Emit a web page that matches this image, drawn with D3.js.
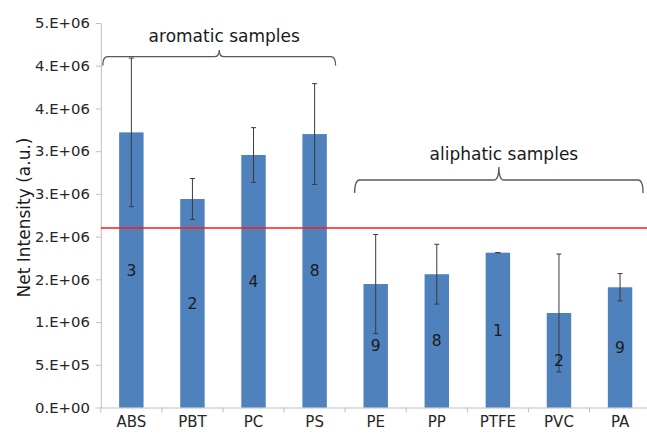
<!DOCTYPE html>
<html>
<head>
<meta charset="utf-8">
<script src="https://cdn.jsdelivr.net/npm/d3@7"></script>
<style>
  body { margin: 0; background: #fff; }
  svg { display: block; font-family: "DejaVu Sans", Verdana, sans-serif; }
</style>
</head>
<body>
<svg id="chart" width="647" height="434"></svg>
<script>
// ---- data ----
const categories = ["ABS", "PBT", "PC", "PS", "PE", "PP", "PTFE", "PVC", "PA"];
const values = [3.22e6, 2.44e6, 2.955e6, 3.20e6, 1.445e6, 1.56e6, 1.812e6, 1.106e6, 1.407e6];
const errors = [0.87e6, 0.24e6, 0.32e6, 0.59e6, 0.58e6, 0.35e6, 0, 0.69e6, 0.16e6];
const counts = ["3", "2", "4", "8", "9", "8", "1", "2", "9"];
const threshold = 2.1e6;
const yTickValues = [0, 5e5, 1e6, 1.5e6, 2e6, 2.5e6, 3e6, 3.5e6, 4e6, 4.5e6];
const yTickLabels = ["0.E+00", "5.E+05", "1.E+06", "2.E+06", "2.E+06", "3.E+06", "3.E+06", "4.E+06", "4.E+06", "5.E+06"];
const groups = [
  { label: "aromatic samples", first: "ABS", last: "PS" },
  { label: "aliphatic samples", first: "PE", last: "PA" }
];

// ---- layout ----
const svg = d3.select("#chart");
const pLeft = 100.8, pRight = 650.6, pTop = 23, pBottom = 407.5;

const x = d3.scaleBand().domain(categories).range([pLeft, pRight])
  .paddingInner(0.6).paddingOuter(0.3);
const y = d3.scaleLinear().domain([0, 4.5e6]).range([pBottom, pTop]);

// y axis
const yAxis = d3.axisLeft(y).tickValues(yTickValues)
  .tickFormat((d, i) => yTickLabels[i]).tickSizeInner(5).tickSizeOuter(0).tickPadding(6);
const gy = svg.append("g").attr("transform", `translate(${pLeft},0)`).call(yAxis);
gy.attr("font-family", null).attr("font-size", null);
gy.select(".domain").attr("stroke", "#bfbfbf");
gy.selectAll(".tick line").attr("stroke", "#bfbfbf");
gy.selectAll(".tick text").attr("fill", "#262626").style("font-size", "14.8px");

// x axis
const xAxis = d3.axisBottom(x).tickSize(0).tickPadding(0);
const gx = svg.append("g").attr("transform", `translate(0,${pBottom})`).call(xAxis);
gx.attr("font-family", null).attr("font-size", null);
gx.select(".domain").attr("stroke", "#bfbfbf");
gx.selectAll(".tick text").attr("fill", "#262626").attr("dy", null).attr("y", 19.5)
  .style("font-size", "15px");
const step = x.step();
const bounds = d3.range(categories.length + 1).map(i => pLeft + i * step);
gx.selectAll(".bound").data(bounds).join("line")
  .attr("class", "bound")
  .attr("x1", d => d).attr("x2", d => d)
  .attr("y1", 0).attr("y2", 5)
  .attr("stroke", "#bfbfbf");

// bars
svg.append("g").selectAll("rect").data(categories).join("rect")
  .attr("x", d => x(d))
  .attr("width", x.bandwidth())
  .attr("y", (d, i) => y(values[i]))
  .attr("height", (d, i) => y(0) - y(values[i]))
  .attr("fill", "#4f81bd");

// threshold line
svg.append("line")
  .attr("x1", pLeft).attr("x2", pRight)
  .attr("y1", y(threshold)).attr("y2", y(threshold))
  .attr("stroke", "#ff1a1a").attr("stroke-width", 1.5);

// error bars
const eb = svg.append("g").attr("stroke", "#3a3a3a").attr("stroke-width", 1);
categories.forEach((c, i) => {
  const cx = x(c) + x.bandwidth() / 2;
  const y1 = y(values[i] + errors[i]), y2 = y(values[i] - errors[i]);
  eb.append("line").attr("x1", cx).attr("x2", cx).attr("y1", y1).attr("y2", y2);
  eb.append("line").attr("x1", cx - 2.5).attr("x2", cx + 2.5).attr("y1", y1).attr("y2", y1);
  eb.append("line").attr("x1", cx - 2.5).attr("x2", cx + 2.5).attr("y1", y2).attr("y2", y2);
});

// count labels
svg.append("g").selectAll("text").data(categories).join("text")
  .attr("x", d => x(d) + x.bandwidth() / 2)
  .attr("y", (d, i) => (y(values[i]) + y(0)) / 2)
  .attr("dy", "0.36em")
  .attr("text-anchor", "middle")
  .attr("fill", "#1a1a1a")
  .style("font-size", "15.5px")
  .text((d, i) => counts[i]);

// brackets
const bracketSpec = [
  { x1: pLeft + 2, x2: x("PS") + x.bandwidth() / 2 + 21, yH: 56.7, yEnd: 65.5, yTip: 50, ty: 41.5 },
  { x1: x("PE") + x.bandwidth() / 2 - 21, x2: x("PA") + x.bandwidth() / 2 + 23, yH: 180, yEnd: 193, yTip: 167, ty: 160 }
];
groups.forEach((g, i) => {
  const b = bracketSpec[i];
  const xm = (b.x1 + b.x2) / 2;
  const r = 5;
  const p = d3.path();
  p.moveTo(b.x1, b.yEnd);
  p.quadraticCurveTo(b.x1, b.yH, b.x1 + r, b.yH);
  p.lineTo(xm - r, b.yH);
  p.quadraticCurveTo(xm, b.yH, xm, b.yTip);
  p.quadraticCurveTo(xm, b.yH, xm + r, b.yH);
  p.lineTo(b.x2 - r, b.yH);
  p.quadraticCurveTo(b.x2, b.yH, b.x2, b.yEnd);
  svg.append("path").attr("d", p.toString())
    .attr("fill", "none").attr("stroke", "#595959").attr("stroke-width", 1.3);
  svg.append("text").attr("x", xm + 5).attr("y", b.ty)
    .attr("text-anchor", "middle").attr("fill", "#1a1a1a")
    .style("font-size", "17px").text(g.label);
});

// y title
svg.append("text")
  .attr("transform", `translate(30,217.5) rotate(-90)`)
  .attr("text-anchor", "middle").attr("fill", "#1a1a1a")
  .style("font-size", "17px")
  .text("Net Intensity (a.u.)");
</script>
</body>
</html>
